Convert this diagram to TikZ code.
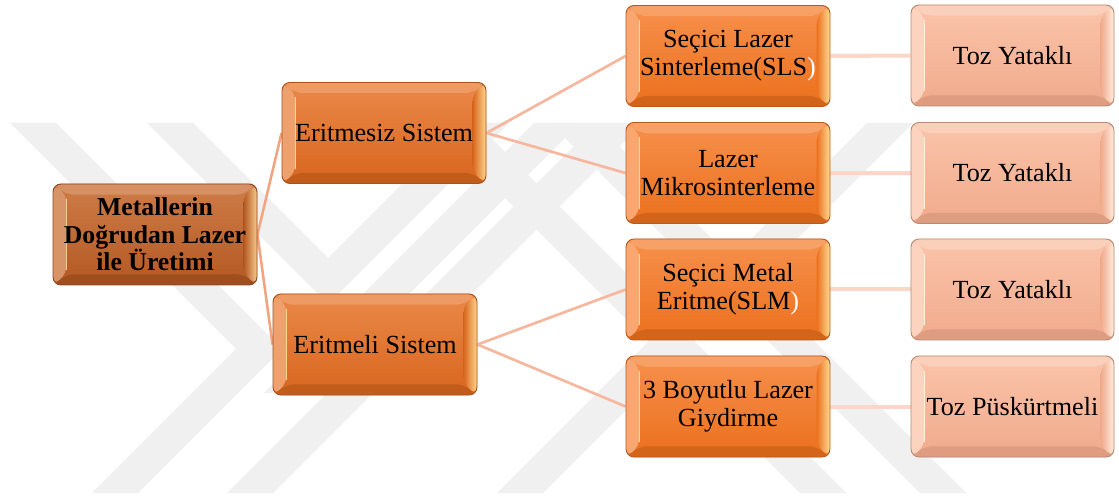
\documentclass[tikz,border=0pt]{standalone}
\usepackage{fontspec}
\setmainfont{Liberation Serif}
\usetikzlibrary{calc}

\newcommand\tilefont{\fontsize{19.6pt}{21.2pt}\selectfont}
\newcommand\rootfont{\fontsize{19.3pt}{20.6pt}\selectfont\bfseries}

% tile colours
\definecolor{rootTop}{HTML}{CF7C48}
\definecolor{rootBot}{HTML}{B35823}
\definecolor{rootEdge}{HTML}{8A4726}
\definecolor{rootHl}{HTML}{F7C98C}
\definecolor{midTop}{HTML}{EA8849}
\definecolor{midBot}{HTML}{D8661E}
\definecolor{midEdge}{HTML}{A9521E}
\definecolor{midHl}{HTML}{FFD58C}
\definecolor{subTop}{HTML}{F7904C}
\definecolor{subBot}{HTML}{EB701D}
\definecolor{subEdge}{HTML}{B85A1C}
\definecolor{subHl}{HTML}{FFDC94}
\definecolor{leafTop}{HTML}{FAC4AA}
\definecolor{leafBot}{HTML}{F1AA8C}
\definecolor{leafEdge}{HTML}{B98A76}
\definecolor{leafHl}{HTML}{FFEEDF}
% connector and watermark colours
\definecolor{linkRoot}{HTML}{F2A47F}
\definecolor{linkDiag}{HTML}{F7B79E}
\definecolor{linkFlat}{HTML}{FCD7C8}
\definecolor{wmGray}{HTML}{F0F0F0}

\pgfdeclarelayer{back}
\pgfsetlayers{back,main}

% bevelled face of a tile: #1 top rim, #2 bottom rim, #3 left rim,
% #4 inner colour of right rim, #5 highlight
\newcommand\tilebevel[5]{%
  \coordinate (tb-sw) at (path picture bounding box.south west);
  \coordinate (tb-ne) at (path picture bounding box.north east);
  \coordinate (tb-nw) at (path picture bounding box.north west);
  \coordinate (tb-se) at (path picture bounding box.south east);
  \coordinate (tb-isw) at ([shift={(10pt,8pt)}]tb-sw);
  \coordinate (tb-ine) at ([shift={(-10pt,-8pt)}]tb-ne);
  \coordinate (tb-inw) at ([shift={(10pt,-8pt)}]tb-nw);
  \coordinate (tb-ise) at ([shift={(-10pt,8pt)}]tb-se);
  \fill[#1] (tb-nw) -- (tb-ne) -- (tb-ine) -- (tb-inw) -- cycle;
  \fill[#2] (tb-sw) -- (tb-se) -- (tb-ise) -- (tb-isw) -- cycle;
  \fill[#3] (tb-nw) -- (tb-inw) -- (tb-isw) -- (tb-sw) -- cycle;
  \shade[left color=#4, right color=#5] (tb-ne) -- (tb-ine) -- (tb-ise) -- (tb-se) -- cycle;
  \draw[#5, line width=1pt] ([yshift=-3pt]tb-inw) -- ([yshift=3pt]tb-isw);
}

\tikzset{
  tile/.style={rounded corners=6pt, minimum width=153pt, minimum height=75.75pt,
    inner sep=0pt, align=center, font=\tilefont, text=black, line width=0.7pt},
  rootTile/.style={tile, font=\rootfont, draw=rootEdge, top color=rootTop, bottom color=rootBot,
    path picture={\tilebevel{rootTop!85!white}{rootBot!88!black}{rootTop!82!white}{rootBot}{rootHl}}},
  midTile/.style={tile, draw=midEdge, top color=midTop, bottom color=midBot,
    path picture={\tilebevel{midTop!85!white}{midBot!90!black}{midTop!80!white}{midBot}{midHl}}},
  subTile/.style={tile, draw=subEdge, top color=subTop, bottom color=subBot,
    path picture={\tilebevel{subTop!85!white}{subBot!90!black}{subTop!80!white}{subBot}{subHl}}},
  leafTile/.style={tile, minimum width=152.25pt, draw=leafEdge, top color=leafTop, bottom color=leafBot,
    path picture={\tilebevel{leafTop!80!white}{leafBot!92!black}{leafTop!75!white}{leafBot}{leafHl}}},
  rootLink/.style={draw=linkRoot, line width=1.9pt},
  diagLink/.style={draw=linkDiag, line width=2pt},
  flatLink/.style={draw=linkFlat, line width=3pt},
  wm/.style={fill=wmGray},
}

\begin{document}
\begin{tikzpicture}[x=0.75pt,y=-0.75pt]
\useasboundingbox (0,0) rectangle (1119,498);

% tree of tiles
\node[rootTile] (root) at (155,234.5) {Metallerin\\Doğrudan Lazer\\ile Üretimi};
\node[midTile] (erz) at (384,133) {Eritmesiz Sistem};
\node[midTile] (erl) at (375,344.5) {Eritmeli Sistem};
\node[subTile] (sls) at (728,56) {Seçici Lazer\\Sinterleme(SLS\textcolor{white}{)}};
\node[subTile] (mik) at (728,173) {Lazer\\Mikrosinterleme};
\node[subTile] (slm) at (728,289.5) {Seçici Metal\\Eritme(SLM\textcolor{white}{)}};
\node[subTile] (boy) at (728,406.5) {3 Boyutlu Lazer\\Giydirme};
\node[leafTile] (t1) at (1012.5,55.5) {Toz Yataklı};
\node[leafTile] (t2) at (1012.5,173) {Toz Yataklı};
\node[leafTile] (t3) at (1012.5,289.5) {Toz Yataklı};
\node[leafTile] (t4) at (1012.5,406.5) {Toz Püskürtmeli};

\begin{pgfonlayer}{back}
  \fill[white] (0,0) rectangle (1119,498);
  % faint striped emblem behind the tree
  \begin{scope}
    \clip (0,123) rectangle (1119,493);
    \fill[wm] (10,123) -- (56,123) -- (282,349) -- (138,493) -- (92,493) -- (236,349) -- cycle;
    \fill[wm] (147,123) -- (193,123) -- (328,258) -- (463,123) -- (509,123) -- (328,304) -- cycle;
    \fill[wm] (534,123) -- (580,123) -- (310,393) -- (264,393) -- cycle;
    \fill[wm] (597,123) -- (643,123) -- (273,493) -- (227,493) -- cycle;
    \fill[wm] (867,123) -- (913,123) -- (543,493) -- (497,493) -- cycle;
    \fill[wm] (430,123) -- (476,123) -- (846,493) -- (800,493) -- cycle;
    \fill[wm] (550,123) -- (596,123) -- (966,493) -- (920,493) -- cycle;
  \end{scope}
  % connectors
  \draw[rootLink] (root.east) -- (erz.west);
  \draw[rootLink] (root.east) -- (erl.west);
  \draw[diagLink] (erz.east) -- (sls.west);
  \draw[diagLink] (erz.east) -- (mik.west);
  \draw[diagLink] (erl.east) -- (slm.west);
  \draw[diagLink] (erl.east) -- (boy.west);
  \draw[flatLink] (sls.east) -- (t1.west);
  \draw[flatLink] (mik.east) -- (t2.west);
  \draw[flatLink] (slm.east) -- (t3.west);
  \draw[flatLink] (boy.east) -- (t4.west);
\end{pgfonlayer}
\end{tikzpicture}
\end{document}
